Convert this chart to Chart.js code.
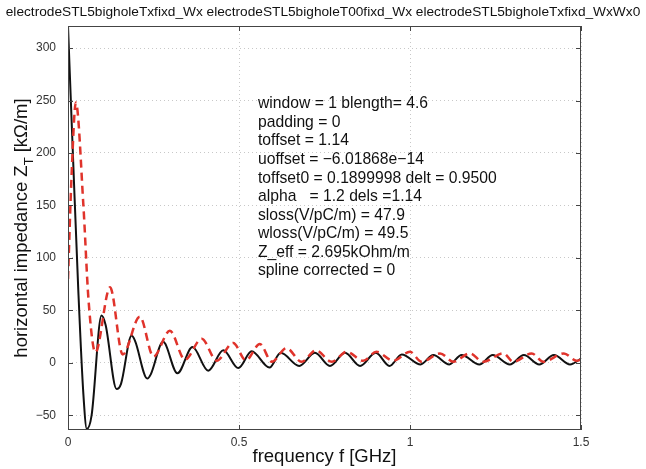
<!DOCTYPE html>
<html>
<head>
<meta charset="utf-8">
<script src="https://cdn.jsdelivr.net/npm/chart.js@4/dist/chart.umd.min.js"></script>
<style>
  html, body { margin: 0; padding: 0; background: #fff; }
  #wrap { width: 646px; height: 469px; position: relative; }
</style>
</head>
<body>
<div id="wrap"><canvas id="zChart"></canvas></div>
<script>
// black solid curve (peaks and troughs)
const blackX = [0, 0.015, 0.03, 0.045, 0.055, 0.069, 0.098, 0.110, 0.142, 0.155, 0.186, 0.196, 0.232, 0.242, 0.278, 0.320, 0.364, 0.410, 0.454, 0.498, 0.537, 0.589, 0.622, 0.676, 0.722, 0.766, 0.810, 0.854, 0.900, 0.940, 0.976, 1.031, 1.068, 1.115, 1.151, 1.203, 1.242, 1.292, 1.333, 1.378, 1.421, 1.468, 1.5];
const blackY = [321, 193, 70, -30, -63, -50, 45, 36, -25, -20, 26, 21, -15, -11, 20, -10, 15, -7.5, 12, -5, 11, -4.5, 9.5, -3, 9.5, -3, 9.5, -3, 9.5, -3, 8, -1.5, 7.5, -1.5, 7.5, -1.5, 7.5, -1.5, 7.5, -1.5, 7.5, -1.5, 4];

// red dashed curve
const redX = [0, 0.01, 0.023, 0.045, 0.06, 0.08, 0.123, 0.16, 0.21, 0.25, 0.298, 0.342, 0.391, 0.435, 0.483, 0.52, 0.561, 0.596, 0.639, 0.683, 0.725, 0.771, 0.815, 0.863, 0.902, 0.951, 1.0, 1.034, 1.088, 1.127, 1.175, 1.214, 1.273, 1.302, 1.356, 1.39, 1.45, 1.487, 1.5];
const redY = [80, 175, 248, 150, 60, 10, 72, 8, 44, 6, 30.5, 3, 23, 2, 19, 2.5, 18, 1, 14, 1, 12, 1, 10.5, 2, 10.5, 2, 10.5, 1, 9, 1, 9, 1, 9, 1, 9, 1, 9, 2, 3];

const xTicks = [0, 0.5, 1, 1.5];
const yTicks = [-50, 0, 50, 100, 150, 200, 250, 300];

const titleText = 'electrodeSTL5bigholeTxfixd_Wx electrodeSTL5bigholeT00fixd_Wx electrodeSTL5bigholeTxfixd_WxWx0';
const infoLines = [
  'window = 1 blength= 4.6',
  'padding = 0',
  'toffset = 1.14',
  'uoffset = \u22126.01868e\u221214',
  'toffset0 = 0.1899998 delt = 0.9500',
  'alpha   = 1.2 dels =1.14',
  'sloss(V/pC/m) = 47.9',
  'wloss(V/pC/m) = 49.5',
  'Z_eff = 2.695kOhm/m',
  'spline corrected = 0'
];

const FONT = '"Liberation Sans", Arial, sans-serif';

const toPoints = (xs, ys) => xs.map((x, i) => ({ x: x, y: ys[i] }));

// frame, inward ticks, title, axis titles and the text block
const decorPlugin = {
  id: 'decor',
  afterDraw(chart) {
    const ctx = chart.ctx;
    const a = chart.chartArea;
    const xs = chart.scales.x, ys = chart.scales.y;
    ctx.save();
    ctx.strokeStyle = '#444';
    ctx.lineWidth = 1;
    ctx.strokeRect(a.left + 0.5, a.top + 0.5, a.right - a.left - 1, a.bottom - a.top - 1);
    ctx.beginPath();
    xTicks.forEach(v => {
      const px = Math.round(xs.getPixelForValue(v)) + 0.5;
      ctx.moveTo(px, a.bottom); ctx.lineTo(px, a.bottom - 5);
      ctx.moveTo(px, a.top); ctx.lineTo(px, a.top + 5);
    });
    yTicks.forEach(v => {
      const py = Math.round(ys.getPixelForValue(v)) + 0.5;
      ctx.moveTo(a.left, py); ctx.lineTo(a.left + 5, py);
      ctx.moveTo(a.right, py); ctx.lineTo(a.right - 5, py);
    });
    ctx.stroke();

    // title
    ctx.fillStyle = '#111';
    ctx.font = '13.7px ' + FONT;
    ctx.textAlign = 'center';
    ctx.textBaseline = 'middle';
    ctx.fillText(titleText, 323, 12);

    // x title
    ctx.font = '18.5px ' + FONT;
    ctx.fillText('frequency f [GHz]', (a.left + a.right) / 2, 457);

    // y title with subscript
    ctx.translate(22, (a.top + a.bottom) / 2);
    ctx.rotate(-Math.PI / 2);
    const p1 = 'horizontal impedance Z', sub = 'T', p2 = ' [k\u03A9/m]';
    ctx.font = '18.5px ' + FONT;
    const w1 = ctx.measureText(p1).width, w3 = ctx.measureText(p2).width;
    ctx.font = '13px ' + FONT;
    const w2 = ctx.measureText(sub).width;
    let x0 = -(w1 + w2 + w3) / 2;
    ctx.textAlign = 'left';
    ctx.font = '18.5px ' + FONT;
    ctx.fillText(p1, x0, 0);
    ctx.font = '13px ' + FONT;
    ctx.fillText(sub, x0 + w1, 7);
    ctx.font = '18.5px ' + FONT;
    ctx.fillText(p2, x0 + w1 + w2, 0);
    ctx.restore();

    // info text block
    ctx.save();
    ctx.fillStyle = '#111';
    ctx.font = '15.7px ' + FONT;
    ctx.textAlign = 'left';
    ctx.textBaseline = 'middle';
    infoLines.forEach((t, i) => ctx.fillText(t, 258, 104 + i * 18.55));
    ctx.restore();
  }
};

new Chart(document.getElementById('zChart'), {
  type: 'line',
  data: {
    datasets: [
      {
        data: toPoints(redX, redY),
        borderColor: '#e0332b',
        borderWidth: 2.5,
        borderDash: [8, 5],
        pointRadius: 0,
        cubicInterpolationMode: 'monotone',
        fill: false
      },
      {
        data: toPoints(blackX, blackY),
        borderColor: '#111',
        borderWidth: 2,
        pointRadius: 0,
        cubicInterpolationMode: 'monotone',
        fill: false
      }
    ]
  },
  options: {
    responsive: true,
    maintainAspectRatio: false,
    animation: false,
    layout: { padding: { left: 0, right: 65, top: 26, bottom: 0 } },
    plugins: { legend: { display: false }, tooltip: { enabled: false } },
    scales: {
      x: {
        type: 'linear',
        min: 0,
        max: 1.5,
        afterBuildTicks: s => { s.ticks = xTicks.map(v => ({ value: v })); },
        afterFit: s => { s.height = 39; },
        grid: { color: '#c8c8c8', drawTicks: false },
        border: { display: false, dash: [1, 3] },
        ticks: {
          color: '#333',
          padding: 5,
          maxRotation: 0,
          font: { size: 12, family: FONT },
          callback: v => String(v)
        }
      },
      y: {
        type: 'linear',
        min: -64,
        max: 321,
        afterBuildTicks: s => { s.ticks = yTicks.map(v => ({ value: v })); },
        afterFit: s => { s.width = 68; },
        grid: { color: '#c8c8c8', drawTicks: false },
        border: { display: false, dash: [1, 3] },
        ticks: {
          color: '#333',
          padding: 12,
          font: { size: 12, family: FONT },
          callback: v => String(v).replace('-', '\u2212')
        }
      }
    }
  },
  plugins: [decorPlugin]
});
</script>
</body>
</html>
